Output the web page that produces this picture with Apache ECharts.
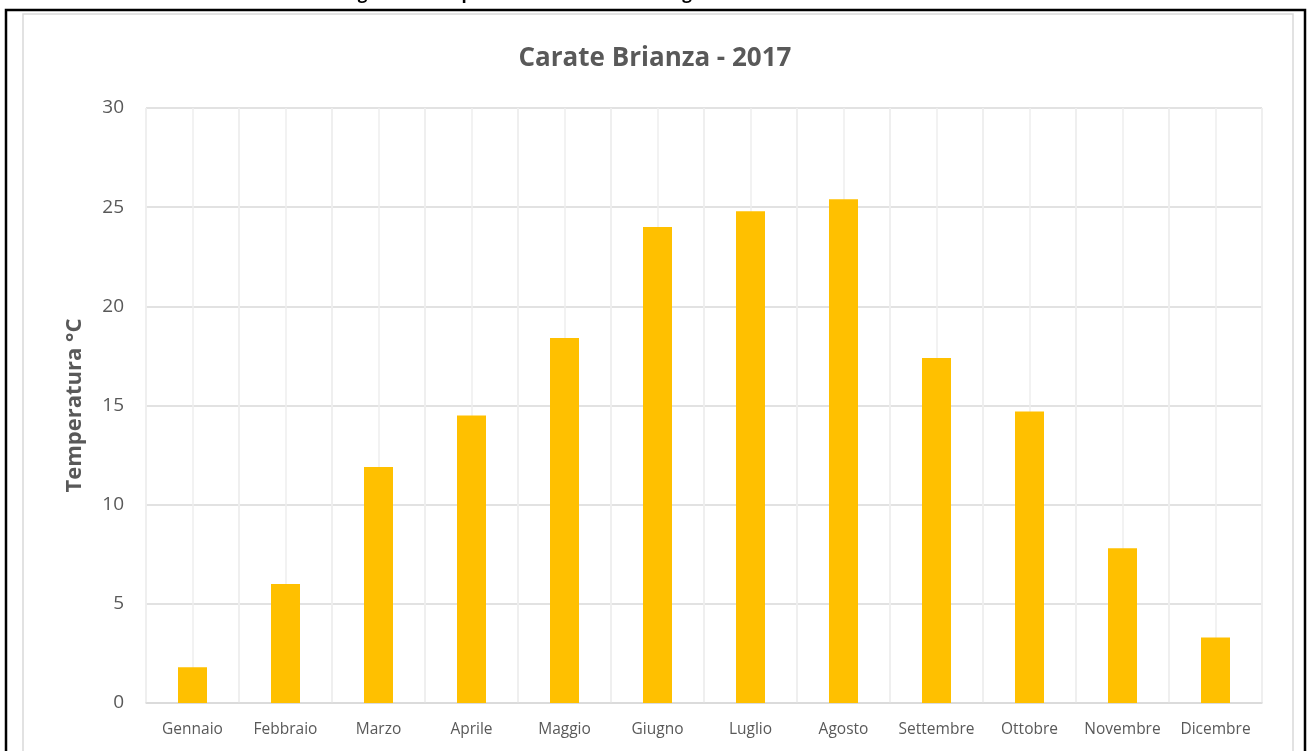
<!DOCTYPE html>
<html>
<head>
<meta charset="utf-8">
<script src="https://cdn.jsdelivr.net/npm/echarts@6/dist/echarts.min.js"></script>
<style>
html,body{margin:0;padding:0;background:#fff;}
#chart{width:1310px;height:751px;}
</style>
</head>
<body>
<div id="chart"></div>
<script>
// mesi e temperature medie (°C)
var mesi = ["Gennaio","Febbraio","Marzo","Aprile","Maggio","Giugno","Luglio","Agosto","Settembre","Ottobre","Novembre","Dicembre"];
var temperature = [1.8, 6.0, 11.9, 14.5, 18.4, 24.0, 24.8, 25.4, 17.4, 14.7, 7.8, 3.3];
var titolo = "Carate Brianza - 2017";
var didascalia = "Figura 1 - Temperature medie mensili registrate a Carate Brianza nel 2017";

var fontFam = "'Open Sans', 'Liberation Sans', sans-serif";
var myChart = echarts.init(document.getElementById("chart"));

var option = {
	animation: false,
	backgroundColor: "#fff",
	title: {
		text: titolo,
		left: "center",
		top: 41,
		textStyle: {color: "#595959", fontSize: 26, fontWeight: "bold", fontFamily: fontFam}
	},
	graphic: [
		{type: "rect", shape: {x: 23, y: 14, width: 1270, height: 760}, style: {fill: "none", stroke: "#d9d9d9", lineWidth: 1.5}, z: 0},
		{type: "rect", shape: {x: 6, y: 10, width: 1299, height: 770}, style: {fill: "none", stroke: "#000", lineWidth: 2.5}, z: 0},
		{type: "text", left: "center", top: -14, style: {text: didascalia, fill: "#000", font: "bold 17px " + fontFam}, z: 0}
	],
	grid: {left: 146, right: 48, top: 108, bottom: 48},
	xAxis: [{
		type: "category",
		data: mesi,
		axisLine: {lineStyle: {color: "#d9d9d9", width: 1.5}},
		axisTick: {show: false},
		axisLabel: {color: "#595959", fontSize: 15.5, fontFamily: fontFam, margin: 19, interval: 0},
		splitLine: {show: true, lineStyle: {color: "#eeeeee", width: 1.5}}
	},{
		// linee secondarie al centro di ogni mese
		type: "value",
		min: 0, max: 24, interval: 1,
		show: true,
		axisLine: {show: false}, axisTick: {show: false}, axisLabel: {show: false},
		splitLine: {show: true, lineStyle: {color: "#eeeeee", width: 1.5}}
	}],
	yAxis: {
		type: "value",
		min: 0, max: 30, interval: 5,
		name: "Temperatura °C",
		nameLocation: "middle",
		nameGap: 60,
		nameTextStyle: {color: "#595959", fontSize: 22, fontWeight: "bold", fontFamily: fontFam},
		axisLine: {show: false},
		axisTick: {show: false},
		axisLabel: {color: "#595959", fontSize: 19, fontFamily: fontFam, margin: 22},
		splitLine: {lineStyle: {color: "#d9d9d9", width: 1.5}}
	},
	series: [{
		type: "bar",
		data: temperature,
		barWidth: 29,
		itemStyle: {color: "#FFC000"},
		z: 3
	}]
};
myChart.setOption(option);
</script>
</body>
</html>
